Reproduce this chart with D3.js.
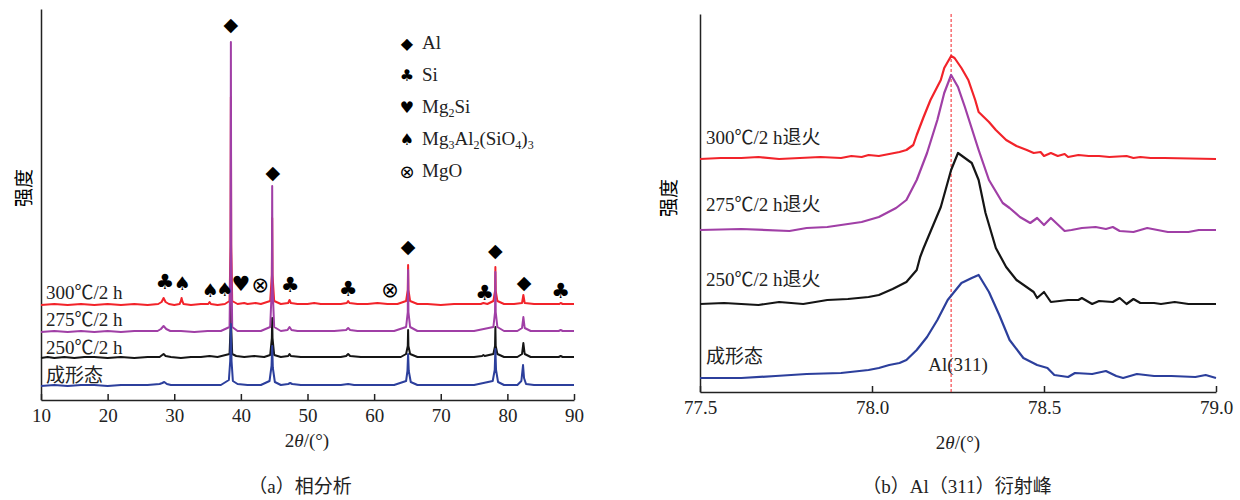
<!DOCTYPE html>
<html lang="zh">
<head>
<meta charset="UTF-8">
<title>XRD</title>
<script src="https://d3js.org/d3.v7.min.js"></script>
<style>
  body { margin: 0; background: #fff; }
  svg { display: block; font-family: "Liberation Serif", "Noto Sans CJK SC", serif; }
  .axis path, .axis line { stroke: #222; stroke-width: 1.5; }
</style>
</head>
<body>
<svg id="chart" width="1240" height="500"></svg>
<script>
// ---------- (a) phase analysis: full scan ----------
const seriesNamesA = ["250℃/2 h", "300℃/2 h", "275℃/2 h", "成形态"];   // draw order
const colorsA = ["#151515", "#f2232a", "#a03fa6", "#2c3f9c"];
const offsetsA = [42, 95, 68, 14];

const red = [[10,0],[12,1],[14,0],[16,1],[18,0],[20,1],[22,0],[24,1],[26,0],[27.6,1],[28.1,3],[28.4,7],[28.7,3],[29.2,1],[30,0],[30.8,1],[31.0,4],[31.1,7],[31.2,4],[31.4,1],[32.5,0],[34,1],[35.1,1],[35.3,3],[35.5,1],[36.5,0],[37.6,1],[38.3,4],[38.45,60],[38.5,208],[38.55,60],[38.7,4],[39.5,1],[40.5,2],[41,1],[42.2,2],[43,1],[44.4,4],[44.65,30],[44.7,87],[44.75,30],[45,4],[46,1],[47.1,2],[47.3,5],[47.5,2],[48.5,1],[50,1],[51,2],[52,1],[53.5,1],[55,1],[55.9,2],[56.1,4],[56.3,2],[57.5,1],[59,1],[60.5,2],[62,1],[63.5,1],[64.8,4],[65.05,15],[65.1,40],[65.15,15],[65.4,4],[66.5,1],[68,1],[70,0],[72,1],[74,1],[76,1],[76.4,2],[77,1],[77.9,4],[78.15,14],[78.2,38],[78.25,14],[78.5,4],[79.5,1],[81,1],[82.2,2],[82.4,10],[82.6,2],[84,1],[86,1],[87.8,1],[88,2],[88.3,1],[90,1]];
const purple = [[10,0],[12,1],[14,0],[16,1],[18,0],[20,1],[22,0],[24,1],[26,1],[27.5,1],[28.0,3],[28.4,6],[28.8,3],[29.4,1],[31,1],[33,0],[35,1],[37,1],[38.3,5],[38.45,80],[38.5,290],[38.55,80],[38.7,5],[39.5,1],[41,1],[43,1],[44.4,5],[44.65,45],[44.7,146],[44.75,45],[45,5],[46,1],[47.0,2],[47.3,5],[47.6,2],[48.5,1],[50,1],[52,1],[54,1],[55.8,2],[56.1,4],[56.4,2],[57.5,1],[59,1],[61,1],[63,1],[64.8,5],[65.05,20],[65.1,62],[65.15,20],[65.4,5],[66.5,1],[69,1],[72,1],[75,1],[77.9,5],[78.15,20],[78.2,60],[78.25,20],[78.5,5],[79.5,1],[81.5,1],[82.2,4],[82.4,15],[82.6,4],[83.5,1],[86,1],[87.7,1],[88,2],[88.3,1],[90,1]];
const black = [[10,0],[11,1],[12,0],[13.5,1],[15,0],[16.5,1],[18,1],[20,0],[22,1],[24,0],[26,1],[27.8,1],[28.2,3],[28.4,4],[28.7,2],[29.5,1],[31,0],[32.5,1],[34,1],[35.3,2],[36.5,1],[38.3,4],[38.45,30],[38.5,60],[38.55,30],[38.7,4],[39.3,2],[40.5,1],[42,2],[43.5,1],[44.4,3],[44.65,20],[44.7,40],[44.75,20],[45,3],[46,1],[47.1,2],[47.3,4],[47.5,2],[49,1],[51,1],[53,1],[55,1],[55.8,2],[56.1,4],[56.4,2],[58,1],[60,1],[62,1],[64,1],[64.8,4],[65.05,12],[65.1,28],[65.15,12],[65.4,4],[66.5,1],[69,1],[72,1],[75,1],[76.2,2],[76.4,3],[76.6,2],[77.9,4],[78.15,12],[78.2,31],[78.25,12],[78.5,4],[79.5,1],[81.5,1],[82.2,4],[82.4,15],[82.6,4],[83.5,1],[86,1],[87.7,1],[88,2],[88.3,1],[90,1]];
const blue = [[10,0],[12,1],[14,0],[16,1],[18,1],[20,0],[22,1],[24,1],[26,1],[27.8,2],[28.2,3],[28.5,4],[28.9,2],[29.5,1],[31,1],[33,1],[35,1],[37,1],[38.2,6],[38.4,25],[38.5,62],[38.6,25],[38.8,5],[39.5,2],[41,1],[43,1],[44.3,5],[44.6,20],[44.7,40],[44.8,18],[45.1,4],[46,1],[47.1,2],[47.4,3],[47.7,2],[49,1],[51,1],[53,1],[55,1],[56.1,2],[57,1],[59,1],[61,1],[63,1],[64.8,5],[65.0,15],[65.1,32],[65.2,15],[65.5,4],[66.5,1],[69,1],[72,1],[75,1],[77.8,5],[78.1,16],[78.2,37],[78.3,16],[78.6,4],[79.5,1],[81.5,1],[82.1,5],[82.35,21],[82.5,8],[82.8,2],[84,1],[86,1],[88,1],[90,1]];
const tracesA = [black, red, purple, blue];

const xTicksA = [10, 20, 30, 40, 50, 60, 70, 80, 90];
// peak markers: [symbol, 2θ, height]
const markers = [
  ["◆", 38.5, 376], ["◆", 44.8, 228], ["◆", 65.1, 154], ["◆", 78.2, 150], ["◆", 82.5, 118],
  ["♣", 28.6, 118], ["♣", 47.4, 115], ["♣", 56.1, 111], ["♣", 76.6, 107], ["♣", 88.0, 109],
  ["♠", 31.2, 117], ["♠", 35.4, 110], ["♠", 37.6, 111],
  ["♥", 40.0, 116],
  ["⊗", 42.9, 115], ["⊗", 62.4, 110]
];
const legendSymbols = ["◆", "♣", "♥", "♠", "⊗"];
const legendLabels = [
  [["Al", 0]],
  [["Si", 0]],
  [["Mg", 0], ["2", 1], ["Si", 0]],
  [["Mg", 0], ["3", 1], ["Al", 0], ["2", 1], ["(SiO", 0], ["4", 1], [")", 0], ["3", 1]],
  [["MgO", 0]]
];
const labelsA = ["300℃/2 h", "275℃/2 h", "250℃/2 h", "成形态"];

// ---------- (b) Al(311) peak ----------
const redB = [[77.50,233],[77.56,234],[77.62,234],[77.67,235],[77.73,233],[77.79,234],[77.85,235],[77.91,234],[77.94,236],[77.97,235],[77.99,237],[78.02,236],[78.05,238],[78.08,240],[78.10,242],[78.12,247],[78.13,257],[78.15,275],[78.17,292],[78.20,312],[78.21,324],[78.23,336],[78.24,334],[78.26,324],[78.28,312],[78.30,292],[78.31,280],[78.34,270],[78.36,262],[78.39,252],[78.42,246],[78.45,242],[78.47,239],[78.49,240],[78.50,236],[78.52,239],[78.54,236],[78.56,238],[78.57,235],[78.60,237],[78.63,236],[78.66,236],[78.69,235],[78.74,236],[78.76,234],[78.78,235],[78.81,234],[78.85,234],[79.00,233]];
const purpleB = [[77.50,162],[77.62,163],[77.76,161],[77.81,164],[77.87,165],[77.91,167],[77.97,170],[78.02,175],[78.07,184],[78.10,192],[78.13,212],[78.16,239],[78.19,272],[78.21,299],[78.23,317],[78.25,305],[78.27,285],[78.31,242],[78.34,212],[78.38,189],[78.40,184],[78.43,175],[78.46,169],[78.48,174],[78.50,167],[78.52,174],[78.56,161],[78.58,162],[78.61,164],[78.65,165],[78.68,163],[78.70,165],[78.72,161],[78.76,160],[78.80,164],[78.86,160],[78.92,160],[78.95,162],[79.00,162]];
const blackB = [[77.50,88],[77.57,89],[77.67,87],[77.73,90],[77.80,88],[77.87,92],[77.93,93],[77.99,95],[78.02,97],[78.06,103],[78.10,110],[78.13,122],[78.14,135],[78.15,144],[78.20,185],[78.23,222],[78.25,239],[78.29,229],[78.31,212],[78.33,179],[78.36,144],[78.39,125],[78.42,112],[78.47,100],[78.48,94],[78.50,100],[78.52,90],[78.57,92],[78.60,92],[78.61,94],[78.64,88],[78.66,91],[78.70,90],[78.72,94],[78.74,88],[78.76,93],[78.78,89],[78.82,89],[78.84,88],[78.88,90],[78.92,88],[79.00,88]];
const blueB = [[77.50,14],[77.62,14],[77.72,16],[77.81,18],[77.91,19],[77.99,22],[78.02,24],[78.05,27],[78.08,29],[78.10,32],[78.13,42],[78.16,55],[78.19,72],[78.22,92],[78.26,109],[78.29,114],[78.31,117],[78.34,100],[78.37,77],[78.40,52],[78.44,34],[78.48,27],[78.51,24],[78.53,17],[78.57,15],[78.59,19],[78.64,18],[78.68,21],[78.71,16],[78.73,14],[78.77,18],[78.82,16],[78.87,16],[78.94,15],[78.97,17],[79.00,14]];
const tracesB = [redB, purpleB, blackB, blueB];
const colorsB = ["#f2232a", "#a03fa6", "#151515", "#2c3f9c"];
const labelsB = ["300℃/2 h退火", "275℃/2 h退火", "250℃/2 h退火", "成形态"];
const xTicksB = [77.5, 78.0, 78.5, 79.0];
const peakLine = 78.23;

const SERIF = "'Liberation Serif', 'Noto Sans CJK SC', serif";
const svg = d3.select("#chart");

function styleAxis(g) {
  g.selectAll("text")
    .attr("font-family", null).attr("font-size", null)
    .style("font-family", SERIF).style("font-size", "19px").style("fill", "#222");
}

// ===== panel (a) =====
const xA = d3.scaleLinear().domain([10, 90]).range([41, 574]);
const yA = d3.scaleLinear().domain([0, 391]).range([400, 9]);
const gA = svg.append("g");

gA.append("g").attr("class", "axis")
  .attr("transform", "translate(0,400)")
  .call(d3.axisBottom(xA).tickValues(xTicksA).tickSize(-6).tickSizeOuter(0).tickPadding(9))
  .call(styleAxis);
gA.append("g").attr("class", "axis")
  .attr("transform", "translate(41,0)")
  .call(d3.axisLeft(yA).tickValues([]).tickSizeOuter(0));

tracesA.forEach((tr, i) => {
  const line = d3.line().x(d => xA(d[0])).y(d => yA(d[1] + offsetsA[i]));
  gA.append("path").datum(tr)
    .attr("fill", "none").attr("stroke", colorsA[i])
    .attr("stroke-width", 2).attr("stroke-linejoin", "round")
    .attr("d", line);
});

gA.selectAll("text.mk").data(markers).enter().append("text")
  .attr("class", "mk")
  .attr("x", d => xA(d[1])).attr("y", d => yA(d[2]))
  .attr("text-anchor", "middle").attr("dominant-baseline", "central")
  .style("font-family", "DejaVu Sans")
  .style("font-size", d => d[0] === "◆" ? "19px" : d[0] === "♠" ? "19px" : "21px")
  .text(d => d[0]);

// legend
legendSymbols.forEach((s, i) => {
  const y = 43 + i * 32;
  gA.append("text").attr("x", 407).attr("y", y)
    .attr("text-anchor", "middle").attr("dominant-baseline", "central")
    .style("font-family", "DejaVu Sans").style("font-size", s === "⊗" ? "18px" : "16px")
    .text(s);
  const t = gA.append("text").attr("x", 422).attr("y", y + 6)
    .style("font-family", SERIF).style("font-size", "19px").style("fill", "#222");
  let prevSub = 0;
  legendLabels[i].forEach(([txt, sub]) => {
    t.append("tspan").text(txt)
      .attr("dy", sub === prevSub ? 0 : (sub ? 4 : -4))
      .style("font-size", sub ? "12px" : "19px");
    prevSub = sub;
  });
});

labelsA.forEach((l, i) => {
  gA.append("text").attr("x", 46).attr("y", [292, 319, 347, 375][i])
    .attr("dominant-baseline", "central")
    .style("font-family", SERIF).style("font-size", "19px").style("fill", "#222")
    .text(l);
});

gA.append("text").attr("x", 22).attr("y", 188)
  .attr("transform", "rotate(-90,22,188)")
  .attr("text-anchor", "middle").attr("dominant-baseline", "central")
  .style("font-size", "19px").style("font-family", "Noto Sans CJK SC").text("强度");

function thetaTitle(g, x, y) {
  const t = g.append("text").attr("x", x).attr("y", y)
    .attr("text-anchor", "middle").attr("dominant-baseline", "central")
    .style("font-family", SERIF).style("font-size", "19px").style("fill", "#222");
  t.append("tspan").text("2");
  t.append("tspan").text("θ").style("font-style", "italic");
  t.append("tspan").text("/(°)");
}
thetaTitle(gA, 307, 440);

svg.append("text").attr("x", 300).attr("y", 486)
  .attr("text-anchor", "middle").attr("dominant-baseline", "central")
  .style("font-family", SERIF).style("font-size", "19px").style("fill", "#222")
  .text("（a）相分析");

// ===== panel (b) =====
const xB = d3.scaleLinear().domain([77.5, 79.0]).range([700, 1216]);
const yB = d3.scaleLinear().domain([0, 378]).range([392, 14]);
const gB = svg.append("g");

gB.append("g").attr("class", "axis")
  .attr("transform", "translate(0,392)")
  .call(d3.axisBottom(xB).tickValues(xTicksB).tickFormat(d3.format(".1f"))
    .tickSize(-6).tickSizeOuter(0).tickPadding(9))
  .call(styleAxis);
gB.append("g").attr("class", "axis")
  .attr("transform", "translate(700,0)")
  .call(d3.axisLeft(yB).tickValues([]).tickSizeOuter(0));

gB.append("line")
  .attr("x1", xB(peakLine)).attr("x2", xB(peakLine))
  .attr("y1", yB(378)).attr("y2", yB(0))
  .attr("stroke", "#f2232a").attr("stroke-width", 1).attr("stroke-dasharray", "3,2");

tracesB.forEach((tr, i) => {
  const line = d3.line().x(d => xB(d[0])).y(d => yB(d[1]));
  gB.append("path").datum(tr)
    .attr("fill", "none").attr("stroke", colorsB[i])
    .attr("stroke-width", 2.2).attr("stroke-linejoin", "round")
    .attr("d", line);
});

labelsB.forEach((l, i) => {
  gB.append("text").attr("x", 706).attr("y", [137, 204, 279, 356][i])
    .attr("dominant-baseline", "central")
    .style("font-family", SERIF).style("font-size", "19px").style("fill", "#222")
    .text(l);
});

gB.append("text").attr("x", 958).attr("y", 364)
  .attr("text-anchor", "middle").attr("dominant-baseline", "central")
  .style("font-family", SERIF).style("font-size", "19px").style("fill", "#222")
  .text("Al(311)");

gB.append("text").attr("x", 667).attr("y", 198)
  .attr("transform", "rotate(-90,667,198)")
  .attr("text-anchor", "middle").attr("dominant-baseline", "central")
  .style("font-size", "19px").style("font-family", "Noto Sans CJK SC").text("强度");

thetaTitle(gB, 958, 442);

svg.append("text").attr("x", 957).attr("y", 486)
  .attr("text-anchor", "middle").attr("dominant-baseline", "central")
  .style("font-family", SERIF).style("font-size", "19px").style("fill", "#222")
  .text("（b）Al（311）衍射峰");
</script>
</body>
</html>
